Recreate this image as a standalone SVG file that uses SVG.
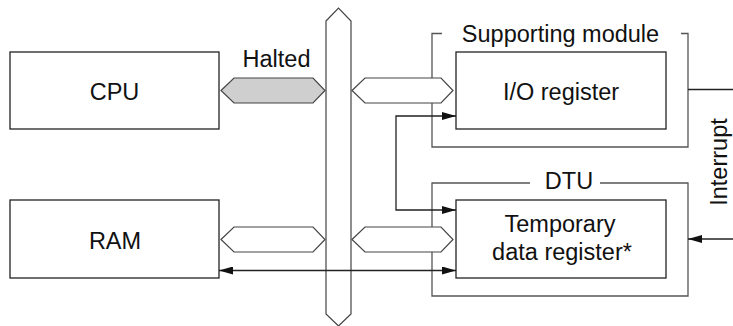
<svg xmlns="http://www.w3.org/2000/svg" width="733" height="326" viewBox="0 0 733 326">
<defs>
<style>
text{font-family:"Liberation Sans",Arial,sans-serif;font-size:23.5px;fill:#111;text-anchor:middle}
.box{fill:#fff;stroke:#222;stroke-width:1.3}
.frame{fill:none;stroke:#555;stroke-width:1.3}
.bus{fill:#fff;stroke:#444;stroke-width:1.2}
.gray{fill:#cfcfcf}
.conn{fill:none;stroke:#222;stroke-width:1.3}
</style>
<marker id="ah" viewBox="0 0 14 8" refX="14" refY="4" markerWidth="14" markerHeight="8" markerUnits="userSpaceOnUse" orient="auto-start-reverse">
<path d="M0,0 L14,4 L0,8 Z" fill="#111"/>
</marker>
</defs>
<g id="bus">
<polygon class="bus" points="326,21 338.5,8 351,21 351,314 338.5,326 326,314"/>
</g>
<g id="cpu">
<rect class="box" x="10" y="52" width="209" height="77"/>
<text x="114.5" y="99.5">CPU</text>
</g>
<g id="ram">
<rect class="box" x="10" y="200" width="209" height="78"/>
<text x="115" y="249">RAM</text>
</g>
<g id="supporting-module">
<path class="frame" d="M442,33.5 H432 V147 H688 V33.5 H681"/>
<text x="560.5" y="42">Supporting module</text>
</g>
<g id="io-register">
<rect class="box" x="456" y="52" width="210" height="77"/>
<text x="561" y="100">I/O register</text>
</g>
<g id="dtu">
<path class="frame" d="M530,183 H432 V296 H688 V183 H600"/>
<text x="569" y="189">DTU</text>
</g>
<g id="temp-register">
<rect class="box" x="456" y="200" width="210" height="78"/>
<text x="560" y="232">Temporary</text>
<text x="562" y="260">data register*</text>
</g>
<g id="connectors">
<polygon class="bus gray" points="221,90.5 234,78 313,78 325,90.5 313,103 234,103"/>
<text x="276.5" y="66.5">Halted</text>
<polygon class="bus" points="352,90.5 365,78 441,78 453,90.5 441,103 365,103"/>
<polygon class="bus" points="221,239.5 234,227 313,227 325,239.5 313,252 234,252"/>
<polygon class="bus" points="352,239.5 365,227 441,227 453,239.5 441,252 365,252"/>
<path class="conn" d="M456,116 H396 V210 H456" marker-start="url(#ah)" marker-end="url(#ah)"/>
<path class="conn" d="M219,270.5 H456" marker-start="url(#ah)" marker-end="url(#ah)"/>
<path class="conn" d="M688,89.5 H733"/>
<path class="conn" d="M733,239 H688" marker-end="url(#ah)"/>
<text transform="translate(727,162) rotate(-90)">Interrupt</text>
</g>
</svg>
